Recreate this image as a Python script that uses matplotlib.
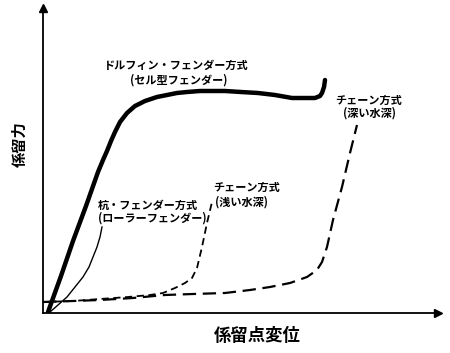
import matplotlib
matplotlib.use("Agg")
import matplotlib.pyplot as plt

plt.rcParams['font.family'] = ['Noto Sans CJK JP', 'DejaVu Sans']

# Values (displacement, mooring force), arbitrary units
dolphin_x = [5, 18, 30, 43, 55, 60, 64, 68, 72, 77, 84, 92, 102, 114, 124, 134, 144, 157, 170, 182, 198, 215, 232, 249, 262, 272, 277, 279, 281, 282]
dolphin_y = [1, 37, 72, 107, 141, 153, 162, 172, 181, 191, 200, 207, 212, 216, 218, 220, 221, 222, 222, 222, 221, 220, 218, 215, 215, 215, 217, 220, 226, 233]

pile_x = [7, 15, 24, 32, 40, 46, 50, 54, 57, 59]
pile_y = [1, 8, 16, 26, 36, 46, 56, 66, 76, 86]

shallow_x = [0, 30, 57, 85, 107, 120, 132, 142, 149, 154, 159, 164, 169]
shallow_y = [11, 12, 14, 16, 18, 20, 25, 30, 35, 45, 66, 90, 111]

deep_x = [0, 30, 57, 90, 122, 150, 182, 207, 227, 247, 264, 274, 279, 284, 290, 299, 307, 314]
deep_y = [11, 12, 13, 15, 18, 19, 20, 23, 26, 30, 36, 43, 51, 66, 93, 126, 160, 188]

x_max = 395
y_max = 305

fig = plt.figure(figsize=(4.5, 3.53), dpi=100)
ax = fig.add_axes([43/450, 40/353, x_max/450, y_max/353])
ax.set_xlim(0, x_max)
ax.set_ylim(0, y_max)
for s in ['top', 'right']:
    ax.spines[s].set_visible(False)
for s in ['left', 'bottom']:
    ax.spines[s].set_linewidth(1.3)
ax.set_xticks([])
ax.set_yticks([])
ax.patch.set_alpha(0)

# arrow heads on axes
ax.plot(1, 0, marker='>', color='k', markersize=6, transform=ax.transAxes, clip_on=False)
ax.plot(0, 1, marker='^', color='k', markersize=6, transform=ax.transAxes, clip_on=False)

ax.plot(dolphin_x, dolphin_y, color='k', lw=3.2, solid_capstyle='round', solid_joinstyle='round')
ax.plot(pile_x, pile_y, color='k', lw=1.0)
ax.plot(shallow_x, shallow_y, color='k', lw=1.3, dashes=(4, 2.5))
ax.plot(deep_x, deep_y, color='k', lw=1.6, dashes=(6, 3))

fs = 8
kw = dict(va='center', fontsize=fs, fontweight='bold')
ax.text(133, 248, 'ドルフィン・フェンダー方式', ha='center', **kw)
ax.text(136, 233, '(セル型フェンダー)', ha='center', **kw)
ax.text(55, 108, '杭・フェンダー方式', ha='left', **kw)
ax.text(55, 95, '(ローラーフェンダー)', ha='left', **kw)
ax.text(204, 126, 'チェーン方式', ha='center', **kw)
ax.text(199, 111, '(浅い水深)', ha='center', **kw)
ax.text(326, 213, 'チェーン方式', ha='center', **kw)
ax.text(326, 200, '(深い水深)', ha='center', **kw)

fig.text(20/450, 1 - 144/353, '係留力', rotation=90, ha='center', va='center', fontsize=11, fontweight='bold')
fig.text(257/450, 1 - 336/353, '係留点変位', ha='center', va='center', fontsize=12.5, fontweight='bold')

fig.savefig('out.png', dpi=100)
